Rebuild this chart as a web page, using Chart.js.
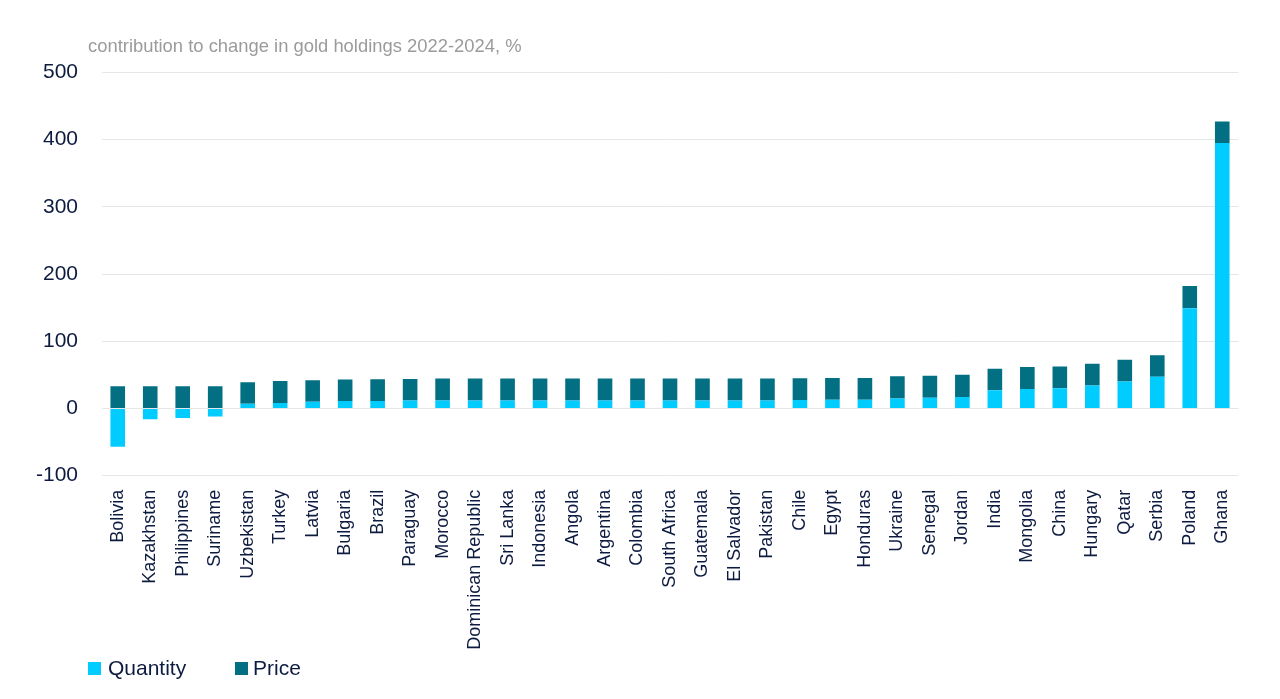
<!DOCTYPE html>
<html>
<head>
<meta charset="utf-8">
<script src="https://cdn.jsdelivr.net/npm/chart.js@4.4.1/dist/chart.umd.min.js"></script>
<style>
  html, body { margin: 0; padding: 0; background: #ffffff; }
  #wrap { position: relative; width: 1280px; height: 699px; overflow: hidden; font-family: "Liberation Sans", Arial, sans-serif; }
  #c { position: absolute; left: 0; top: 0; }
  #title { position: absolute; left: 88px; top: 36px; font-size: 18.4px; line-height: 20px; color: #9b9b9b; white-space: nowrap; }
  .lg { position: absolute; top: 656px; font-size: 21px; line-height: 24px; color: #0d1b40; white-space: nowrap; }
  .sw { position: absolute; top: 662px; width: 13px; height: 13px; }
</style>
</head>
<body>
<div id="wrap">
  <canvas id="c" width="1280" height="699"></canvas>
  <div id="title">contribution to change in gold holdings 2022-2024, %</div>
  <div class="sw" id="sw1" style="left:88px;"></div>
  <div class="lg" id="lg1" style="left:108px;">Quantity</div>
  <div class="sw" id="sw2" style="left:235px;"></div>
  <div class="lg" id="lg2" style="left:253px;">Price</div>
</div>
<script>
const categories = ["Bolivia","Kazakhstan","Philippines","Suriname","Uzbekistan","Turkey","Latvia","Bulgaria","Brazil","Paraguay","Morocco","Dominican Republic","Sri Lanka","Indonesia","Angola","Argentina","Colombia","South Africa","Guatemala","El Salvador","Pakistan","Chile","Egypt","Honduras","Ukraine","Senegal","Jordan","India","Mongolia","China","Hungary","Qatar","Serbia","Poland","Ghana"];
const quantity = [-57,-16,-14,-12,7,8,10,11,11,12,12,12,12,12,12,12,12,12,12,12,12,12.5,13,13,15,16,17,27,29,30,34,40,47,149,395];
const price = [33,33,33,33,32,33,32,32,32.5,32,32.5,32.5,32.5,32.5,32.5,32.5,32.5,32.5,32.5,32.5,32.5,32.5,32.5,32.5,33,32.5,33,32,32.5,32.5,32.5,32.5,32,33,32];
const yTicks = [-100,0,100,200,300,400,500];
const seriesNames = ["Quantity","Price"];
const colors = ["#00ccff","#036f83"];

document.getElementById('sw1').style.background = colors[0];
document.getElementById('sw2').style.background = colors[1];

new Chart(document.getElementById('c'), {
  type: 'bar',
  data: {
    labels: categories,
    datasets: [
      { label: seriesNames[0], data: quantity, backgroundColor: colors[0], borderWidth: 0, barPercentage: 0.45, categoryPercentage: 1.0 },
      { label: seriesNames[1], data: price, backgroundColor: colors[1], borderWidth: 0, barPercentage: 0.45, categoryPercentage: 1.0 }
    ]
  },
  options: {
    responsive: false,
    animation: false,
    devicePixelRatio: 1,
    layout: { padding: { left: 10, right: 41.5, top: 72.3, bottom: 23.3 } },
    plugins: { legend: { display: false }, tooltip: { enabled: false }, title: { display: false } },
    scales: {
      x: {
        stacked: true,
        grid: { display: false, drawTicks: false },
        border: { display: false },
        ticks: {
          autoSkip: false, maxRotation: 90, minRotation: 90, padding: 14,
          color: '#0d1b40', font: { family: '"Liberation Sans", Arial, sans-serif', size: 18 }
        },
        afterFit: (s) => { s.height = 200; }
      },
      y: {
        stacked: true,
        min: yTicks[0], max: yTicks[yTicks.length - 1],
        afterBuildTicks: (s) => { s.ticks = yTicks.map(v => ({ value: v })); },
        grid: { color: '#e6e6e6', lineWidth: 1, drawTicks: false },
        border: { display: false },
        ticks: {
          padding: 23.5, color: '#0d1b40',
          font: { family: '"Liberation Sans", Arial, sans-serif', size: 21 }
        },
        afterFit: (s) => { s.width = 91.5; }
      }
    }
  }
});
</script>
</body>
</html>
